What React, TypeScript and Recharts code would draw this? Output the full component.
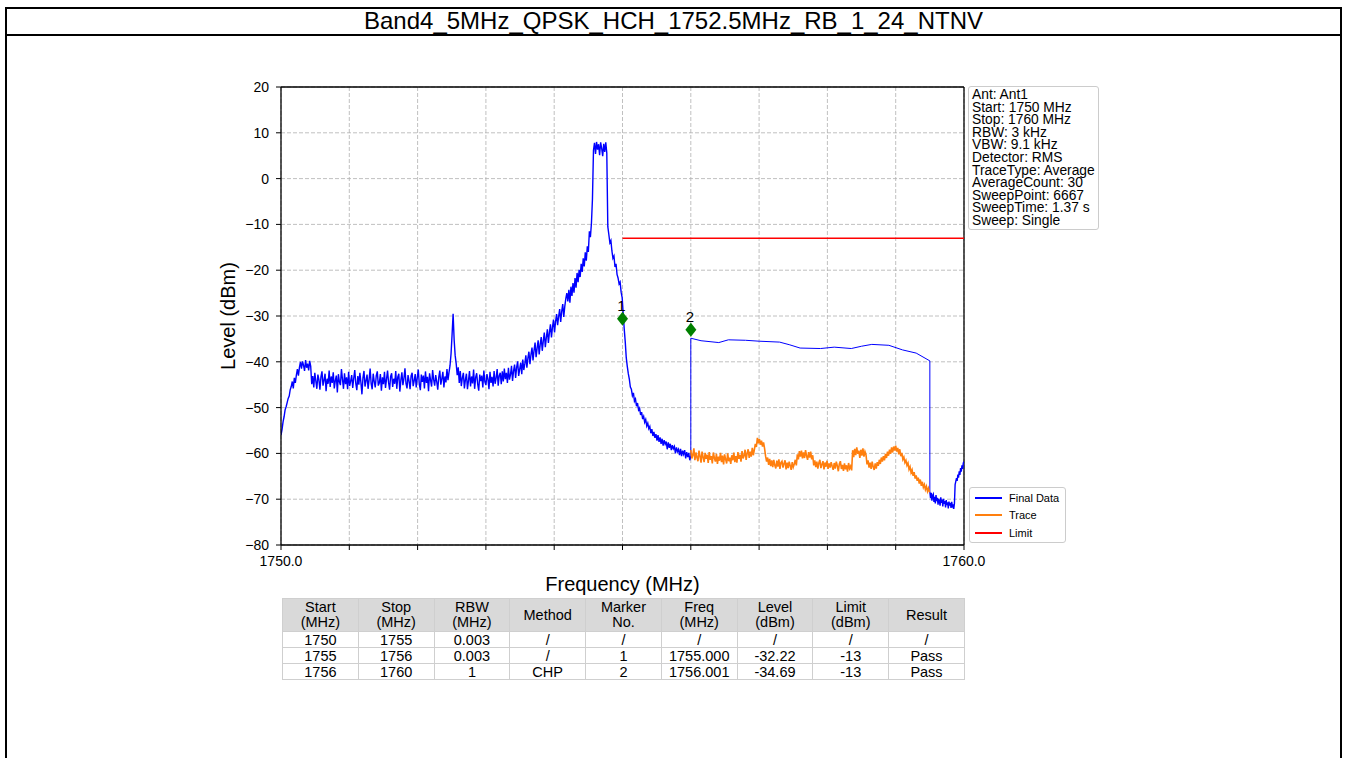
import React from "react";
import {
  ComposedChart,
  Line,
  Scatter,
  XAxis,
  YAxis,
  CartesianGrid,
  ReferenceLine,
} from "recharts";

const TITLE = "Band4_5MHz_QPSK_HCH_1752.5MHz_RB_1_24_NTNV";

// sweep 1750 -> 1756 MHz, one reading every 0.015 MHz
const FINAL_START = 1750;
const FINAL_STEP = 0.015;
const finalLevels = [
  -56.0, -54.8, -53.1, -52.0, -50.5, -49.8, -48.9, -48.0, -47.5, -46.1,
  -45.4, -44.3, -45.8, -43.5, -44.6, -42.9, -41.6, -43.0, -41.2, -40.0,
  -41.5, -39.9, -40.8, -42.0, -39.6, -41.3, -40.4, -41.9, -39.8, -41.0,
  -44.9, -43.1, -45.6, -42.4, -44.2, -45.9, -42.8, -43.9, -46.1, -43.3,
  -42.1, -45.2, -44.0, -42.6, -46.4, -43.7, -44.8, -41.9, -45.5, -43.2,
  -44.6, -42.3, -45.8, -44.1, -43.0, -46.7, -42.7, -44.4, -45.1, -41.6,
  -43.8, -45.9, -42.5, -44.9, -43.4, -46.0, -42.2, -45.3, -44.2, -42.9,
  -45.7, -43.6, -41.8, -44.7, -46.2, -43.1, -45.0, -42.4, -44.5, -47.1,
  -43.5, -42.0, -45.4, -44.1, -42.8, -45.9, -43.9, -41.5, -44.8, -46.0,
  -42.6, -44.3, -45.6, -43.0, -42.1, -45.2, -44.6, -42.7, -46.3, -43.4,
  -44.9, -42.2, -45.7, -43.8, -41.9, -44.5, -46.1, -43.2, -42.5, -45.5,
  -43.7, -44.8, -42.0, -45.9, -43.3, -42.6, -46.5, -44.0, -42.3, -45.1,
  -43.6, -41.4, -44.7, -45.8, -42.9, -44.2, -46.0, -43.1, -42.4, -45.3,
  -44.1, -42.7, -45.6, -43.5, -41.7, -44.9, -46.2, -42.8, -44.4, -43.0,
  -45.8, -42.1, -44.6, -43.3, -46.4, -42.5, -44.0, -45.4, -41.8, -43.9,
  -45.2, -42.9, -44.3, -46.1, -43.4, -41.9, -45.0, -43.7, -42.2, -45.6,
  -43.2, -44.5, -41.6, -44.0, -42.3, -40.8, -38.2, -34.0, -29.5, -35.2,
  -38.6, -40.4, -42.9, -41.2, -44.6, -42.0, -45.3, -43.5, -42.4, -45.8,
  -43.9, -42.6, -46.0, -44.1, -42.0, -45.4, -43.2, -44.7, -41.7, -45.9,
  -43.4, -42.5, -44.9, -46.3, -42.8, -44.2, -43.0, -45.6, -41.9, -44.4,
  -45.1, -42.7, -43.8, -46.0, -42.2, -44.6, -43.3, -45.4, -42.0, -44.8,
  -43.5, -41.6, -45.2, -43.0, -42.4, -44.9, -42.1, -44.3, -41.5, -43.8,
  -42.4, -44.6, -41.3, -43.9, -42.8, -40.9, -44.2, -42.0, -40.6, -43.5,
  -41.2, -39.9, -43.1, -41.6, -40.2, -42.7, -39.5, -41.8, -40.4, -38.6,
  -41.3, -39.2, -37.8, -40.5, -38.4, -36.9, -39.7, -37.5, -35.8, -39.0,
  -37.0, -35.3, -38.4, -36.2, -34.6, -37.6, -35.5, -33.6, -36.8, -34.7,
  -32.9, -35.9, -33.6, -31.8, -34.7, -32.4, -30.8, -33.6, -31.2, -29.6,
  -32.0, -30.1, -28.5, -31.3, -29.0, -27.4, -30.2, -27.9, -26.2, -25.0,
  -26.8, -24.3, -27.1, -23.6, -25.6, -22.8, -24.9, -21.7, -23.8, -20.6,
  -22.6, -19.9, -21.5, -18.6, -20.4, -17.4, -19.2, -16.1, -17.9, -14.8,
  -16.0, -11.5, -12.8, -9.8, -4.5, 6.2, 7.8, 5.4, 8.0, 6.3,
  7.5, 5.1, 7.9, 6.6, 4.9, 7.6, 5.8, 7.9, 5.6, -10.5,
  -12.2, -14.0, -13.5, -15.8, -17.4, -16.9, -19.3, -18.6, -20.9, -21.7,
  -23.0, -22.6, -24.8, -26.0, -29.4, -32.8, -35.6, -39.1, -41.0, -42.6,
  -43.8, -45.5, -46.0, -47.4, -46.8, -48.6, -48.1, -49.7, -49.0, -50.5,
  -50.1, -51.6, -51.0, -52.5, -51.9, -53.2, -52.6, -54.0, -53.4, -54.6,
  -54.1, -55.6, -54.7, -56.2, -55.3, -56.6, -55.8, -57.2, -56.0, -57.5,
  -56.5, -57.9, -56.8, -58.3, -57.1, -58.0, -57.4, -59.1, -57.6, -58.8,
  -57.9, -59.3, -58.2, -59.0, -58.5, -60.0, -58.7, -59.6, -59.1, -60.4,
  -59.0, -60.6, -59.4, -60.2, -59.3, -61.1, -59.7, -60.8, -59.9, -61.5,
  -60.6,
];

// CHP result curve 1756 -> 1759.5 MHz
const chpFreqs = [
  1756.0, 1756.15, 1756.41, 1756.55, 1756.8, 1757.0, 1757.3, 1757.45, 1757.6,
  1757.9, 1758.1, 1758.35, 1758.5, 1758.65, 1758.9, 1759.1, 1759.3, 1759.5,
];
const chpLevels = [
  -34.85, -35.4, -35.8, -35.2, -35.3, -35.5, -35.7, -36.3, -37.0,
  -37.1, -36.8, -37.1, -36.6, -36.2, -36.4, -37.4, -38.1, -39.8,
];

// tail 1759.5 -> 1760 MHz
const TAIL_START = 1759.5;
const TAIL_STEP = 0.01;
const tailLevels = [
  -68.4, -69.8, -68.6, -70.3, -69.2, -68.9, -70.6, -69.5, -70.9, -69.1,
  -70.4, -69.7, -71.2, -69.9, -70.5, -71.4, -69.6, -70.8, -70.1, -71.6,
  -69.9, -71.0, -70.4, -71.8, -70.2, -71.3, -70.7, -72.0, -70.5, -71.4,
  -70.8, -71.9, -70.6, -71.5, -71.1, -72.1, -70.9, -66.8, -66.1, -65.4,
  -66.0, -64.6, -65.3, -63.9, -64.7, -63.2, -64.0, -62.6, -63.4, -62.1,
  -61.8,
];

// trace 1756 -> 1759.5 MHz
const TRACE_START = 1756;
const TRACE_STEP = 0.015;
const traceLevels = [
  -59.3, -61.1, -60.4, -58.9, -61.5, -59.8, -60.9, -61.7, -59.4, -60.6,
  -62.0, -59.6, -60.8, -61.9, -59.9, -61.2, -60.3, -62.1, -59.7, -61.4,
  -60.6, -62.2, -59.8, -61.0, -61.8, -60.1, -62.3, -60.7, -61.6, -59.9,
  -61.9, -60.5, -62.4, -60.2, -61.3, -62.2, -60.0, -61.7, -60.9, -62.3,
  -60.4, -61.5, -59.8, -61.9, -60.6, -62.0, -59.7, -61.2, -60.3, -61.8,
  -59.5, -61.1, -60.5, -59.2, -61.4, -60.0, -59.1, -61.0, -59.6, -60.7,
  -58.8, -60.4, -59.2, -57.9, -58.6, -56.6, -57.8, -56.9, -58.1, -57.2,
  -58.5, -57.6, -58.9, -60.6, -61.8, -60.9, -62.5, -61.2, -62.8, -61.5,
  -63.0, -61.4, -62.6, -63.3, -61.6, -62.9, -61.3, -63.4, -62.0, -61.7,
  -63.1, -62.2, -61.5, -63.5, -62.0, -63.2, -61.8, -62.7, -63.6, -61.9,
  -63.0, -62.3, -61.4, -62.6, -60.2, -61.3, -59.5, -60.7, -59.4, -61.1,
  -59.8, -61.0, -59.3, -60.6, -61.4, -59.7, -60.9, -59.6, -61.3, -60.4,
  -62.6, -61.5, -63.0, -61.8, -63.3, -62.1, -61.4, -63.2, -62.4, -61.7,
  -63.5, -62.0, -62.9, -61.6, -63.4, -62.2, -63.1, -61.9, -62.8, -63.6,
  -62.1, -63.3, -61.8, -62.7, -63.9, -62.3, -61.7, -63.4, -62.5, -63.8,
  -62.2, -63.5, -62.6, -64.0, -62.1, -63.3, -62.8, -63.7, -59.3, -60.8,
  -59.0, -60.4, -58.7, -60.1, -59.4, -61.0, -59.2, -60.5, -58.9, -60.7,
  -59.6, -60.3, -62.4, -61.5, -63.1, -62.0, -63.4, -61.8, -62.9, -63.6,
  -62.2, -63.3, -61.9, -62.7, -61.4, -62.3, -60.9, -61.8, -60.6, -61.5,
  -60.1, -61.0, -59.6, -60.5, -59.2, -60.1, -58.7, -59.8, -58.5, -59.4,
  -58.3, -59.6, -58.8, -60.2, -59.1, -60.6, -59.9, -61.3, -60.8, -62.0,
  -61.5, -62.6, -62.1, -63.5, -62.9, -64.2, -63.6, -64.9, -64.1, -65.5,
  -64.8, -66.0, -65.3, -66.6, -65.7, -67.1, -66.2, -67.4, -66.8, -67.9,
  -67.2, -68.3, -67.6, -68.5,
];

const limitFreqs = [1755, 1760];
const limitLevels = [-13, -13];

const markerNames = ["1", "2"];
const markerFreqs = [1755.0, 1756.001];
const markerLevels = [-30.6, -33.0];

const xTicks = [1750, 1751, 1752, 1753, 1754, 1755, 1756, 1757, 1758, 1759, 1760];
const yTicks = [-80, -70, -60, -50, -40, -30, -20, -10, 0, 10, 20];

const infoLines = [
  "Ant: Ant1",
  "Start: 1750 MHz",
  "Stop: 1760 MHz",
  "RBW: 3 kHz",
  "VBW: 9.1 kHz",
  "Detector: RMS",
  "TraceType: Average",
  "AverageCount: 30",
  "SweepPoint: 6667",
  "SweepTime: 1.37 s",
  "Sweep: Single",
];

const tableHeader = [
  ["Start", "(MHz)"],
  ["Stop", "(MHz)"],
  ["RBW", "(MHz)"],
  ["Method"],
  ["Marker", "No."],
  ["Freq", "(MHz)"],
  ["Level", "(dBm)"],
  ["Limit", "(dBm)"],
  ["Result"],
];
const tableRows = [
  ["1750", "1755", "0.003", "/", "/", "/", "/", "/", "/"],
  ["1755", "1756", "0.003", "/", "1", "1755.000", "-32.22", "-13", "Pass"],
  ["1756", "1760", "1", "CHP", "2", "1756.001", "-34.69", "-13", "Pass"],
];

const legendItems = [
  { name: "Final Data", color: "#0000ff" },
  { name: "Trace", color: "#ff7f0e" },
  { name: "Limit", color: "#ff0000" },
];

const sweepData = finalLevels.map((y, i) => ({ x: FINAL_START + i * FINAL_STEP, y }));
const tailData = tailLevels.map((y, i) => ({ x: TAIL_START + i * TAIL_STEP, y }));
// thin part of Final Data joins the sweep end to the tail start
const chpData = [
  sweepData[sweepData.length - 1],
  ...chpFreqs.map((x, i) => ({ x, y: chpLevels[i] })),
  tailData[0],
];
const traceData = traceLevels.map((y, i) => ({ x: TRACE_START + i * TRACE_STEP, y }));
const limitData = limitFreqs.map((x, i) => ({ x, y: limitLevels[i] }));
const markerData = markerFreqs.map((x, i) => ({ x, y: markerLevels[i], name: markerNames[i] }));

const FONT = '"Liberation Sans", Arial, Helvetica, sans-serif';

function MarkerShape(props: any) {
  const { cx, cy, payload } = props;
  if (cx == null || cy == null) return null;
  return (
    <g>
      <polygon
        points={`${cx},${cy - 7} ${cx + 5.5},${cy} ${cx},${cy + 7} ${cx - 5.5},${cy}`}
        fill="#008000"
      />
      <text x={cx - 1} y={cy - 8} textAnchor="middle" fontSize={15} fill="#000" fontFamily={FONT}>
        {payload.name}
      </text>
    </g>
  );
}

const minus = (v: number) => String(v).replace("-", "\u2212");

export default function App() {
  const colW = (964 - 282) / tableHeader.length;
  return (
    <div
      style={{
        position: "absolute",
        left: 0,
        top: 0,
        width: 1345,
        height: 758,
        background: "#fff",
        overflow: "hidden",
        fontFamily: FONT,
        color: "#000",
      }}
    >
      {/* page frame + title */}
      <div
        style={{
          position: "absolute",
          left: 5,
          top: 7,
          width: 1337,
          height: 780,
          border: "2px solid #000",
          boxSizing: "border-box",
        }}
      />
      <div style={{ position: "absolute", left: 5, top: 34, width: 1337, height: 2, background: "#000" }} />
      <div
        style={{
          position: "absolute",
          left: 5,
          top: 8,
          width: 1337,
          textAlign: "center",
          fontSize: 24,
          lineHeight: "26px",
        }}
      >
        {TITLE}
      </div>

      <div style={{ position: "absolute", left: 0, top: 0 }}>
        <ComposedChart width={1345} height={758} margin={{ top: 87, right: 381, bottom: 163, left: 221 }}>
          <CartesianGrid stroke="#b0b0b0" strokeDasharray="4 2" strokeWidth={0.8} />
          <XAxis
            type="number"
            dataKey="x"
            domain={[1750, 1760]}
            ticks={xTicks}
            allowDataOverflow
            height={50}
            tickSize={5}
            tickMargin={6}
            interval={0}
            stroke="#000"
            axisLine={{ stroke: "#000", strokeWidth: 1.3 }}
            tick={{ fill: "#000", fontSize: 14, fontFamily: FONT }}
            tickFormatter={(v: number) => (v === 1750 || v === 1760 ? v.toFixed(1) : "")}
            label={{
              value: "Frequency (MHz)",
              position: "insideBottom",
              offset: 4,
              style: { fontSize: 20, fill: "#000", fontFamily: FONT },
            }}
          />
          <YAxis
            type="number"
            dataKey="y"
            domain={[-80, 20]}
            ticks={yTicks}
            allowDataOverflow
            width={60}
            tickSize={5}
            tickMargin={7}
            interval={0}
            stroke="#000"
            axisLine={{ stroke: "#000", strokeWidth: 1.3 }}
            tick={{ fill: "#000", fontSize: 14, fontFamily: FONT }}
            tickFormatter={minus}
            label={{
              value: "Level (dBm)",
              angle: -90,
              position: "insideLeft",
              offset: 7,
              style: { textAnchor: "middle", fontSize: 20, fill: "#000", fontFamily: FONT },
            }}
          />
          <ReferenceLine y={20} stroke="#000" strokeWidth={1.3} />
          <ReferenceLine x={1760} stroke="#000" strokeWidth={1.3} />
          <Line
            data={sweepData}
            dataKey="y"
            type="linear"
            stroke="#0000ff"
            strokeWidth={1.4}
            dot={false}
            isAnimationActive={false}
          />
          <Line
            data={chpData}
            dataKey="y"
            type="linear"
            stroke="#0000ff"
            strokeWidth={1}
            dot={false}
            isAnimationActive={false}
          />
          <Line
            data={tailData}
            dataKey="y"
            type="linear"
            stroke="#0000ff"
            strokeWidth={1.4}
            dot={false}
            isAnimationActive={false}
          />
          <Line
            data={traceData}
            dataKey="y"
            type="linear"
            stroke="#ff7f0e"
            strokeWidth={1.6}
            dot={false}
            isAnimationActive={false}
          />
          <Line
            data={limitData}
            dataKey="y"
            type="linear"
            stroke="#ff0000"
            strokeWidth={1.5}
            dot={false}
            isAnimationActive={false}
          />
          <Scatter data={markerData} dataKey="y" shape={<MarkerShape />} isAnimationActive={false} />
        </ComposedChart>
      </div>

      {/* info box */}
      <div
        style={{
          position: "absolute",
          left: 968,
          top: 86,
          width: 131,
          height: 144,
          border: "1px solid #cccccc",
          borderRadius: 3,
          boxSizing: "border-box",
          padding: "2px 0 0 3px",
          fontSize: 13.8,
          lineHeight: "12.6px",
          background: "#fff",
          whiteSpace: "nowrap",
        }}
      >
        {infoLines.map((t) => (
          <div key={t}>{t}</div>
        ))}
      </div>

      {/* legend */}
      <div
        style={{
          position: "absolute",
          left: 969,
          top: 487,
          width: 97,
          height: 56,
          border: "1px solid #cccccc",
          borderRadius: 3,
          boxSizing: "border-box",
          padding: "1px 0 0 5px",
          fontSize: 11,
          background: "#fff",
        }}
      >
        {legendItems.map((it) => (
          <div key={it.name} style={{ display: "flex", alignItems: "center", height: 17.5 }}>
            <div style={{ width: 27, height: 2, background: it.color, marginRight: 7 }} />
            <span>{it.name}</span>
          </div>
        ))}
      </div>

      {/* result table */}
      <table
        style={{
          position: "absolute",
          left: 282,
          top: 598,
          width: 682,
          borderCollapse: "collapse",
          tableLayout: "fixed",
          fontSize: 14.5,
          fontFamily: FONT,
          textAlign: "center",
        }}
      >
        <colgroup>
          {tableHeader.map((_, i) => (
            <col key={i} style={{ width: colW }} />
          ))}
        </colgroup>
        <tbody>
          <tr style={{ background: "#d9d9d9", height: 33 }}>
            {tableHeader.map((h, i) => (
              <td key={i} style={{ border: "1px solid #cfcfcf", padding: 0, lineHeight: "15px" }}>
                {h.map((s) => (
                  <div key={s}>{s}</div>
                ))}
              </td>
            ))}
          </tr>
          {tableRows.map((r, ri) => (
            <tr key={ri} style={{ height: 16 }}>
              {r.map((c, ci) => (
                <td key={ci} style={{ border: "1px solid #cfcfcf", padding: 0, lineHeight: "14px" }}>
                  {c}
                </td>
              ))}
            </tr>
          ))}
        </tbody>
      </table>
    </div>
  );
}
